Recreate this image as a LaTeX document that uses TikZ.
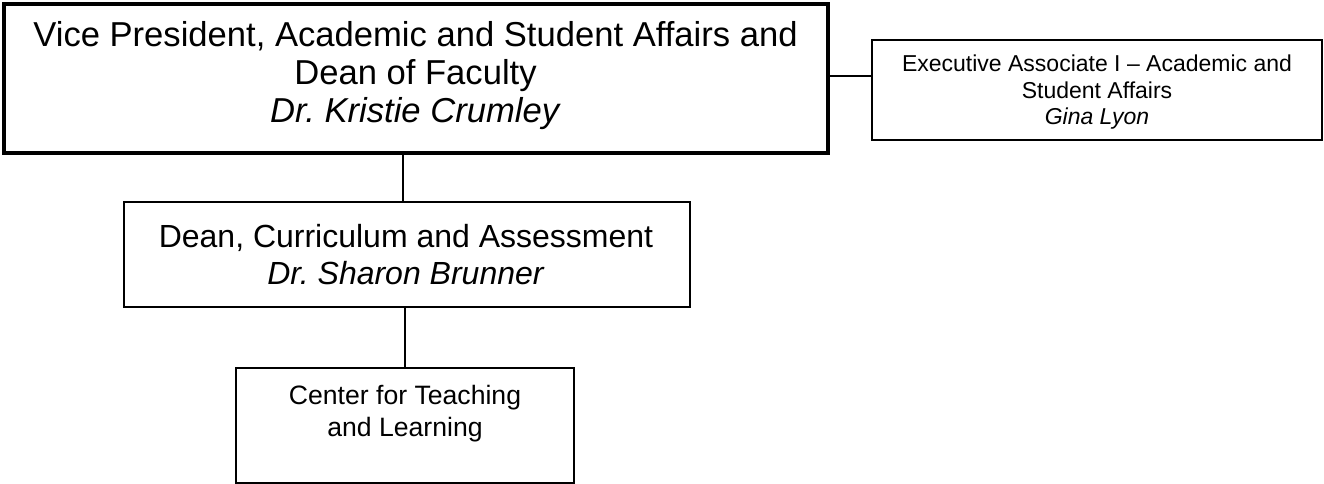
\documentclass[tikz,border=0pt]{standalone}
\usepackage{fontspec}
\setmainfont{Liberation Sans}
\frenchspacing
\begin{document}
\begin{tikzpicture}[x=1pt,y=-1pt,
  orgbox/.style={draw=black, line width=1.6pt, rectangle, inner sep=0pt},
  topbox/.style={orgbox, line width=4pt},
  boxtext/.style={inner sep=0pt, align=center},
  link/.style={draw=black, line width=1.3pt}]
\useasboundingbox (0,0) rectangle (1324,484);
% boxes
\node[topbox, minimum width=824pt, minimum height=149pt] (vp) at (415.5,78.5) {};
\node[orgbox, minimum width=450pt, minimum height=100pt] (exec) at (1097,90) {};
\node[orgbox, minimum width=566pt, minimum height=105pt] (dean) at (407,254.5) {};
\node[orgbox, minimum width=338pt, minimum height=115pt] (ctl) at (405,425.5) {};
% texts
\node[boxtext, font=\fontsize{34.6}{38}\selectfont] (vptext) at (415.5,75.5)
  {Vice President, Academic and Student Affairs and\\Dean of Faculty\\\textit{Dr.\ Kristie Crumley}};
\node[boxtext, font=\fontsize{23}{26.5}\selectfont] (exectext) at (1097,92.5)
  {Executive Associate I – Academic and\\Student Affairs\\\textit{Gina Lyon}};
\node[boxtext, font=\fontsize{32}{37}\selectfont] (deantext) at (406,254.5)
  {Dean, Curriculum and Assessment\\\textit{Dr.\ Sharon Brunner}};
\node[boxtext, font=\fontsize{26.6}{32}\selectfont] (ctltext) at (405,414)
  {Center for Teaching\\and Learning};
% connectors
\draw[link] ([xshift=-4pt]dean.north) -- ([xshift=-4pt]dean.north |- vp.south);
\draw[link] ([yshift=2.5pt]vp.east) -- ([yshift=2.5pt]vp.east -| exec.west);
\draw[link] (dean.south -| ctl.north) -- (ctl.north);
\end{tikzpicture}
\end{document}
